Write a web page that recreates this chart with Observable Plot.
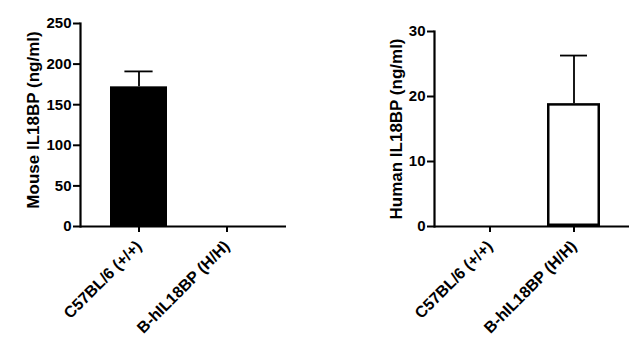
<!DOCTYPE html>
<html><head><meta charset="utf-8">
<script src="https://cdn.jsdelivr.net/npm/d3@7"></script>
<script src="https://cdn.jsdelivr.net/npm/@observablehq/plot@0.6"></script>
<style>
body{margin:0;background:#fff;}
#wrap{display:flex;width:642px;height:342px;}
</style></head><body><div id="wrap"></div>
<script>
const groups = ["C57BL/6 (+/+)", "B-hIL18BP (H/H)"];
const mouseMean = [172, 0];
const mouseErr = [19, 0];
const humanMean = [0, 18.9];
const humanErr = [0, 7.4];
const mouseTicks = [0, 50, 100, 150, 200, 250];
const humanTicks = [0, 10, 20, 30];
const mouseTitle = "Mouse IL18BP (ng/ml)";
const humanTitle = "Human IL18BP (ng/ml)";

const FONT = '"Liberation Sans", Arial, sans-serif';

function panel(o) {
  const data = groups.map((g, i) => ({g, v: o.means[i], e: o.errs[i]}));
  const shown = data.filter(d => d.v > 0);
  const sw = o.outline ? 2.5 : 0;
  return Plot.plot({
    width: 321, height: 342,
    marginLeft: o.marginLeft, marginRight: o.marginRight, marginTop: o.marginTop, marginBottom: 116,
    style: {fontFamily: FONT, fontSize: "15px", fontWeight: "bold", color: "#000", background: "#fff"},
    x: {domain: groups, paddingInner: o.pi, paddingOuter: 0.34, label: null},
    y: {domain: [0, o.ymax], label: null},
    marks: [
      Plot.barY(shown, {x: "g", y: "v", fill: o.fill, stroke: "#000", strokeWidth: sw, inset: sw / 2}),
      Plot.ruleX(shown, {x: "g", y1: "v", y2: d => d.v + d.e, stroke: "#000", strokeWidth: 1.8}),
      Plot.tickY(shown, {x: "g", y: d => d.v + d.e, stroke: "#000", strokeWidth: 1.8, inset: o.capInset}),
      Plot.frame({anchor: "left", strokeWidth: 2.2}),
      Plot.ruleY([0], {strokeWidth: 2.2}),
      Plot.axisY({ticks: o.ticks, tickSize: 7, tickPadding: 2, strokeWidth: 2, label: null, fontSize: 15}),
      Plot.axisX({tickSize: 6, tickPadding: 11, tickRotate: -45, strokeWidth: 2, label: null, fontSize: 16}),
      Plot.text([o.title], {text: d => d, frameAnchor: "left", rotate: -90, lineAnchor: "top", textAnchor: "middle",
        dx: o.titleDx, dy: o.titleDy, fontSize: 17, fontWeight: "bold"})
    ]
  });
}

const wrap = document.getElementById("wrap");
wrap.append(panel({
  means: mouseMean, errs: mouseErr, ticks: mouseTicks, ymax: 250, title: mouseTitle,
  fill: "#000", outline: false, marginLeft: 80, marginRight: 35, marginTop: 23,
  pi: 0.347, capInset: 14.4, titleDx: -54, titleDy: -5
}));
wrap.append(panel({
  means: humanMean, errs: humanErr, ticks: humanTicks, ymax: 30, title: humanTitle,
  fill: "#fff", outline: true, marginLeft: 113, marginRight: 13, marginTop: 31,
  pi: 0.37, capInset: 13, titleDx: -45, titleDy: 0
}));
</script></body></html>
